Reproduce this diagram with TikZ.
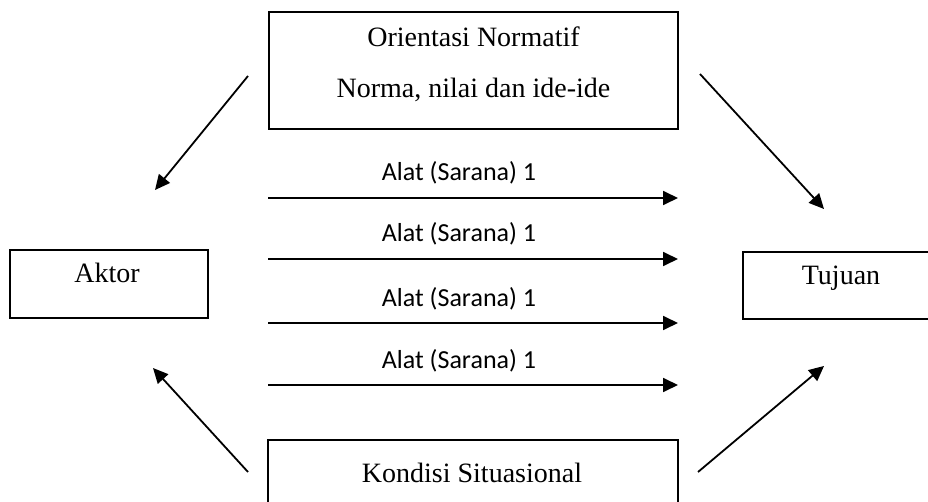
\documentclass[tikz,border=0pt]{standalone}
\usepackage{fontspec}
\setmainfont{Liberation Serif}
\newfontfamily\alatfont{Carlito}
\usetikzlibrary{arrows.meta}

\begin{document}
\begin{tikzpicture}[x=1pt,y=-1pt,
  kotak/.style={draw,line width=1.5pt,inner sep=0},
  teks/.style={anchor=base,inner sep=0,font=\fontsize{28}{30}\selectfont},
  alat/.style={anchor=base,inner sep=0,font=\alatfont\fontsize{26}{30}\selectfont},
  panah/.style={line width=1.8pt,-{Triangle[length=15pt,width=14pt]}}]
\useasboundingbox (0,0) rectangle (928,502);
\clip (0,0) rectangle (928,502);
% kotak
\node[kotak,minimum width=409pt,minimum height=117pt] (orientasi) at (473.5,70.5) {};
\node[kotak,minimum width=198pt,minimum height=68pt] (aktor) at (109,284) {};
\node[kotak,minimum width=198pt,minimum height=67pt] (tujuan) at (842,285.5) {};
\node[kotak,minimum width=410pt,minimum height=80pt] (kondisi) at (473,480) {};
\node[teks] (orientasi1) at (473.5,47) {Orientasi Normatif};
\node[teks] (orientasi2) at (473.5,98) {Norma, nilai dan ide-ide};
\node[teks] (aktorteks) at (107,283) {Aktor};
\node[teks] (tujuanteks) at (841,285) {Tujuan};
\node[teks] (kondisiteks) at (472,482) {Kondisi Situasional};
% panah miring
\coordinate (o1) at (248,76);  \coordinate (a1) at (155,190);
\coordinate (o2) at (700,74);  \coordinate (t1) at (824,209);
\coordinate (k1) at (248,472); \coordinate (a2) at (153,368);
\coordinate (k2) at (698,472); \coordinate (t2) at (824,366);
\draw[panah] (o1) -- (a1);
\draw[panah] (o2) -- (t1);
\draw[panah] (k1) -- (a2);
\draw[panah] (k2) -- (t2);
% alat
\foreach \y [count=\i] in {198,259,323,385}{
  \coordinate (m\i) at (268,\y);
  \coordinate (s\i) at (678,\y);
  \draw[panah] (m\i) -- (s\i);
  \node[alat] (alat\i) at (459,\y-17) {Alat (Sarana) 1};
}
\end{tikzpicture}
\end{document}
